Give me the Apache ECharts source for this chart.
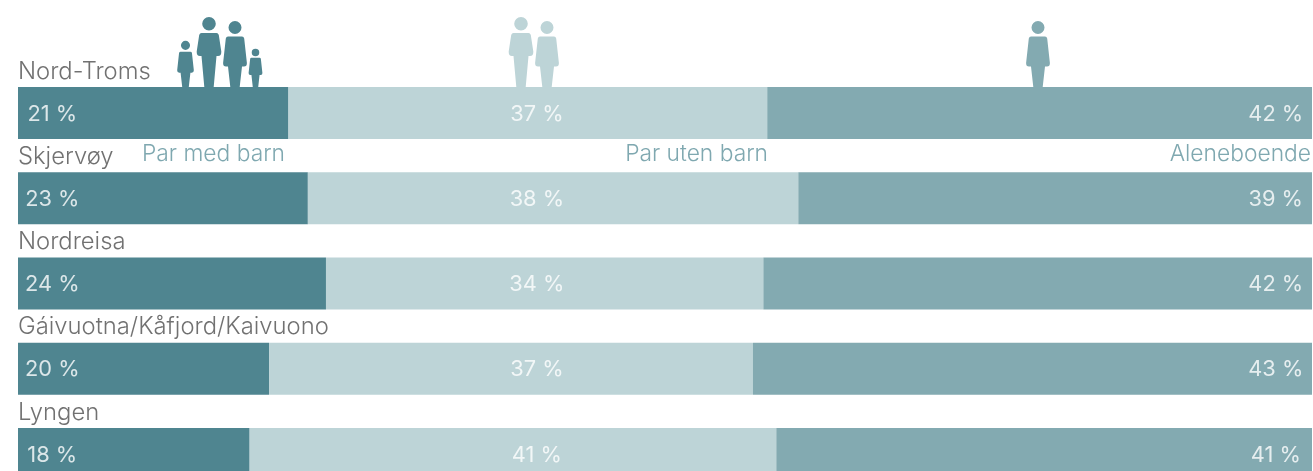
<!DOCTYPE html>
<html><head><meta charset="utf-8">
<style>html,body{margin:0;padding:0;background:#fff}#c{width:1313px;height:471px}</style>
<script src="https://cdn.jsdelivr.net/npm/echarts@6/dist/echarts.min.js"></script>
</head><body><div id="c"></div>
<script>
const categories = ['Nord-Troms','Skjervøy','Nordreisa','Gáivuotna/Kåfjord/Kaivuono','Lyngen'];
const seriesNames = ['Par med barn','Par uten barn','Aleneboende'];
const parMedBarn = [20.9,22.4,23.8,19.4,17.9];
const parUtenBarn = [37.0,37.9,33.8,37.4,40.7];
const aleneboende = [42.1,39.7,42.4,43.2,41.4];
const labelsMedBarn = ['21 %','23 %','24 %','20 %','18 %'];
const labelsUtenBarn = ['37 %','38 %','34 %','37 %','41 %'];
const labelsAlene = ['42 %','39 %','42 %','43 %','41 %'];
const labelAnchors = [2.65,40.1,97.2];

const DARK='#4f8590',LIGHT='#bdd4d7',MID='#83aab1',FONT='Inter';
const chart = echarts.init(document.getElementById('c'),null,{renderer:'canvas'});

function bar(name,data,color){return {name,type:'bar',stack:'t',data,barWidth:52,itemStyle:{color},silent:true};}
function anchorLabels(anchor,labels){return {type:'scatter',symbolSize:0,silent:true,z:5,
  data:labels.map((t,i)=>({value:[anchor,categories[i]],label:{formatter:t}})),
  label:{show:true,position:'inside',align:'center',verticalAlign:'middle',offset:[0,1],color:'#fff',fontFamily:FONT,fontWeight:400,fontSize:21.8}};}
const rowNames={type:'scatter',symbolSize:0,silent:true,z:6,data:categories.map(c=>[0,c]),
  label:{show:true,position:'inside',align:'left',verticalAlign:'middle',offset:[0,-41.5],formatter:p=>p.value[1],color:'#4d4d4d',fontFamily:FONT,fontWeight:300,fontSize:23.8}};

const WOMAN='M-7,-50.5 L7,-50.5 Q8.8,-50.5 9.2,-48.5 L11.9,-24 Q12,-20.5 9,-20.5 L7,-20.5 L4.7,0 L-4.7,0 L-7,-20.5 L-9,-20.5 Q-12,-20.5 -11.9,-24 L-9.2,-48.5 Q-8.8,-50.5 -7,-50.5 Z M0,-66 A6.5,6.5 0 1 1 0,-53 A6.5,6.5 0 1 1 0,-66 Z';
const MAN='M-7.5,-54 L7.5,-54 Q9.2,-54 9.8,-52 L12.3,-35.5 Q12.5,-31 9,-31 L7.5,-31 L4.7,0 L-4.7,0 L-7.5,-31 L-9,-31 Q-12.5,-31 -12.3,-35.5 L-9.8,-52 Q-9.2,-54 -7.5,-54 Z M0,-70 A6.8,6.8 0 1 1 0,-56.4 A6.8,6.8 0 1 1 0,-70 Z';
const icons=[[WOMAN,185.5,0.7,DARK],[MAN,209,1,DARK],[WOMAN,235,1,DARK],[WOMAN,255.5,0.58,DARK],[MAN,521,1,LIGHT],[WOMAN,547,1,LIGHT],[WOMAN,1038,1,MID]];
function caption(t,right){return {type:'text',x:right,y:154.5,style:{text:t,align:'right',verticalAlign:'middle',fill:'#7fa8b0',fontFamily:FONT,fontWeight:300,fontSize:22.8},silent:true};}

chart.setOption({
  animation:false,
  grid:{left:18,top:70.4,width:1294,height:426.25,outerBoundsMode:'none'},
  xAxis:{type:'value',min:0,max:100,show:false},
  yAxis:{type:'category',inverse:true,data:categories,axisLine:{show:false},axisTick:{show:false},axisLabel:{show:false}},
  series:[bar(seriesNames[0],parMedBarn,DARK),bar(seriesNames[1],parUtenBarn,LIGHT),bar(seriesNames[2],aleneboende,MID),
    anchorLabels(labelAnchors[0],labelsMedBarn),anchorLabels(labelAnchors[1],labelsUtenBarn),anchorLabels(labelAnchors[2],labelsAlene),rowNames,
    {type:'custom',coordinateSystem:'none',silent:true,clip:false,data:icons.map((_,i)=>[i]),
     renderItem:(p,api)=>{const ic=icons[api.value(0)];return {type:'path',shape:{pathData:ic[0]},x:ic[1],y:87,scaleX:ic[2],scaleY:ic[2],style:{fill:ic[3]}};}}],
  graphic:[caption(seriesNames[0],285),caption(seriesNames[1],768),caption(seriesNames[2],1311)]
});
</script></body></html>
